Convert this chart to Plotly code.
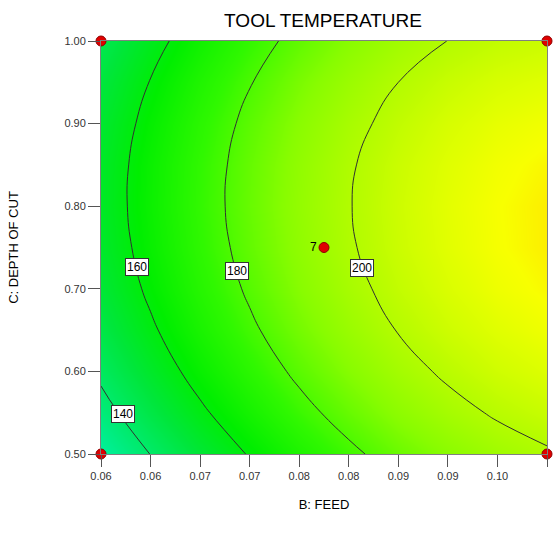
import plotly.graph_objects as go

# B: FEED grid values and C: DEPTH OF CUT grid values
feed = [0.055, 0.060, 0.065, 0.070, 0.075, 0.080, 0.085, 0.090, 0.095, 0.100]
depth = [0.50, 0.55, 0.60, 0.65, 0.70, 0.75, 0.80, 0.85, 0.90, 0.95, 1.00]
# Tool temperature surface (rows = depth, cols = feed)
temperature = [
    [128.6, 140.2, 151.0, 160.8, 169.8, 177.7, 184.7, 190.5, 195.3, 198.9],
    [136.0, 147.5, 158.1, 167.8, 176.6, 184.3, 191.1, 196.7, 201.2, 204.5],
    [142.2, 153.6, 164.1, 173.6, 182.2, 189.8, 196.3, 201.7, 206.0, 209.1],
    [147.1, 158.4, 168.8, 178.2, 186.6, 194.0, 200.4, 205.6, 209.6, 212.5],
    [150.8, 162.0, 172.2, 181.5, 189.8, 197.1, 203.3, 208.3, 212.2, 214.8],
    [153.1, 164.2, 174.4, 183.6, 191.8, 199.0, 205.0, 209.9, 213.6, 216.0],
    [154.1, 165.2, 175.4, 184.5, 192.6, 199.6, 205.5, 210.3, 213.8, 216.1],
    [153.8, 164.9, 175.0, 184.1, 192.1, 199.1, 204.9, 209.5, 212.9, 215.1],
    [152.2, 163.3, 173.4, 182.5, 190.4, 197.3, 203.0, 207.6, 210.9, 212.9],
    [149.3, 160.4, 170.5, 179.5, 187.5, 194.3, 200.0, 204.4, 207.6, 209.6],
    [145.0, 156.2, 166.3, 175.4, 183.3, 190.1, 195.7, 200.1, 203.2, 205.1],
]
contour_levels = [140, 160, 180, 200]

# design points
pt_feed = [0.055, 0.055, 0.100, 0.100, 0.0775]
pt_depth = [0.50, 1.00, 0.50, 1.00, 0.75]
pt_text = ["", "", "", "", "7"]

# tick labels
x_tickvals = [0.055, 0.060, 0.065, 0.070, 0.075, 0.080, 0.085, 0.090, 0.095, 0.100]
x_ticktext = ["0.06", "0.06", "0.07", "0.07", "0.08", "0.08", "0.09", "0.09", "0.10", "0.10"]
y_tickvals = [0.50, 0.60, 0.70, 0.80, 0.90, 1.00]
y_ticktext = ["0.50", "0.60", "0.70", "0.80", "0.90", "1.00"]

# contour label placement (data coords)
label_pos = [(0.0572, 0.548), (0.0586, 0.727), (0.0687, 0.722), (0.0813, 0.725)]

# colour stops by temperature value
cmin, cmax = 128.0, 217.0
stops = [(128, "#00f0a0"), (140, "#00ea68"), (150, "#00e63a"), (162, "#00ee00"),
         (175, "#30f800"), (190, "#88fc00"), (202, "#bcfc00"), (210, "#e2ff00"),
         (214, "#f8ff00"), (217, "#ffe600")]
colorscale = [[(v - cmin) / (cmax - cmin), c] for v, c in stops]

FONT = "Liberation Sans, Arial, sans-serif"

fig = go.Figure()
fig.add_trace(go.Contour(
    x=feed, y=depth, z=temperature,
    colorscale=colorscale, zmin=cmin, zmax=cmax,
    contours=dict(start=contour_levels[0], end=contour_levels[-1],
                  size=contour_levels[1] - contour_levels[0],
                  coloring="heatmap", showlabels=False),
    line=dict(color="#303030", width=1, smoothing=1.3),
    showscale=False, hoverinfo="skip",
))
fig.add_trace(go.Scatter(
    x=pt_feed, y=pt_depth, mode="markers+text", text=pt_text,
    textposition="middle left", textfont=dict(family=FONT, size=12, color="#000"),
    marker=dict(color="#e00000", size=10, line=dict(color="#900000", width=1)),
    cliponaxis=False, showlegend=False, hoverinfo="skip",
))
for (lx, ly), lev in zip(label_pos, contour_levels):
    fig.add_annotation(x=lx, y=ly, text=str(lev), showarrow=False,
                       font=dict(family=FONT, size=12, color="#000"),
                       bgcolor="#ffffff", bordercolor="#333", borderwidth=1, borderpad=1)

axis_common = dict(showgrid=False, zeroline=False, showline=True, linecolor="#808080",
                   linewidth=1, mirror=True, ticks="outside", ticklen=12,
                   tickcolor="#555", tickwidth=1,
                   tickfont=dict(family=FONT, size=11, color="#333"))
fig.update_xaxes(range=[0.055, 0.100], tickvals=x_tickvals, ticktext=x_ticktext,
                 title=dict(text="B: FEED", font=dict(family=FONT, size=13, color="#000"), standoff=18),
                 **axis_common)
fig.update_yaxes(range=[0.50, 1.00], tickvals=y_tickvals, ticktext=y_ticktext,
                 title=dict(text="C: DEPTH OF CUT", font=dict(family=FONT, size=13, color="#000"), standoff=42),
                 **axis_common)
fig.update_layout(
    width=555, height=542,
    margin=dict(l=101, r=8, t=41, b=88),
    paper_bgcolor="#ffffff", plot_bgcolor="#ffffff",
    title=dict(text="TOOL TEMPERATURE", x=0.582, xanchor="center", y=0.962, yanchor="middle",
               font=dict(family=FONT, size=19, color="#000")),
    showlegend=False,
)
fig.write_html("out.html")
